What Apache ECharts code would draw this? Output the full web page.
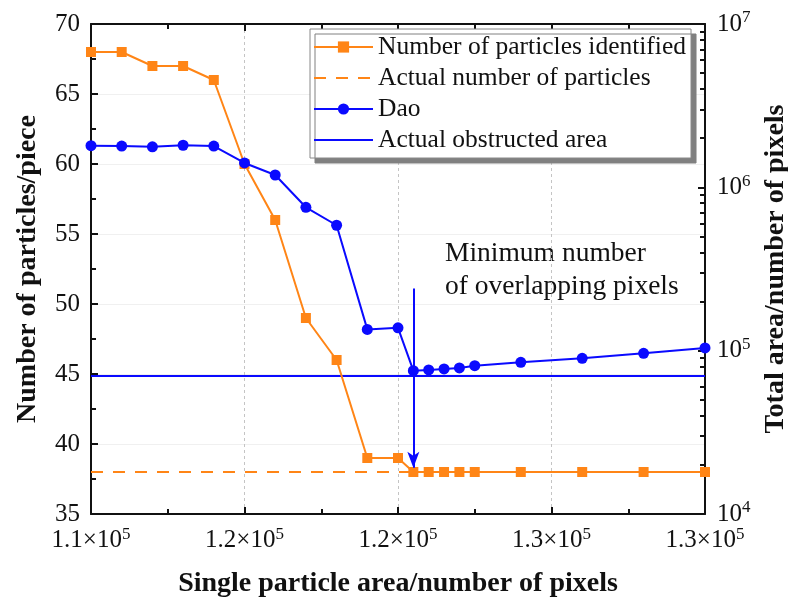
<!DOCTYPE html>
<html>
<head>
<meta charset="utf-8">
<script src="https://cdn.jsdelivr.net/npm/echarts@6/dist/echarts.min.js"></script>
<style>
  html, body { margin: 0; padding: 0; background: #fff; }
  #main { width: 788px; height: 604px; }
</style>
</head>
<body>
<div id="main"></div>
<script>
// values
var areaValues = [110000, 111000, 112000, 113000, 114000, 115000, 116000, 117000, 118000, 119000,
    120000, 120500, 121000, 121500, 122000, 122500, 124000, 126000, 128000, 130000];
var identifiedCount = [68, 68, 67, 67, 66, 60, 56, 49, 46, 39, 39, 38, 38, 38, 38, 38, 38, 38, 38, 38];
var daoArea = [1.80e6, 1.79e6, 1.77e6, 1.81e6, 1.79e6, 1.41e6, 1.19e6, 7.55e5, 5.86e5, 1.35e5,
    1.38e5, 7.54e4, 7.62e4, 7.73e4, 7.84e4, 8.09e4, 8.49e4, 8.98e4, 9.64e4, 1.04e5];
var actualCount = 38;
var actualArea = 7.0e4;
var xTickLabels = ['1.1', '1.2', '1.2', '1.3', '1.3'];
var arrowX = 120500;
var arrowFrom = 51.1, arrowTo = 38.3;

var ORANGE = '#ff8516';
var BLUE = '#0a0aff';
var FONT = '"Liberation Serif", "Times New Roman", serif';

function pairs(xs, ys) {
    return xs.map(function (x, i) { return [x, ys[i]]; });
}

var chart = echarts.init(document.getElementById('main'));

var axisLineStyle = { color: '#111', width: 2 };
var supRich = {
    b: { fontFamily: FONT, fontSize: 25, color: '#111' },
    s: { fontFamily: FONT, fontSize: 17, color: '#111', verticalAlign: 'top', padding: [0, 0, 12, 0] }
};

var option = {
    animation: false,
    backgroundColor: '#fff',
    grid: { left: 91, right: 83, top: 24, bottom: 90, containLabel: false, outerBoundsMode: 'none' },
    legend: {
        orient: 'vertical',
        left: 310, top: 29,
        padding: [5, 5, 5, 3],
        backgroundColor: '#fff',
        borderColor: '#888',
        borderWidth: 1,
        shadowColor: '#808080',
        shadowBlur: 0,
        shadowOffsetX: 5,
        shadowOffsetY: 5,
        itemWidth: 59,
        itemHeight: 14,
        itemGap: 5,
        textStyle: { fontFamily: FONT, fontSize: 25.5, color: '#111' },
        data: [
            'Number of particles identified',
            { name: 'Actual number of particles', itemStyle: { opacity: 0 } },
            'Dao',
            { name: 'Actual obstructed area', itemStyle: { opacity: 0 } }
        ]
    },
    xAxis: [
        {
            type: 'value', position: 'bottom',
            min: 110000, max: 130000, interval: 5000,
            name: 'Single particle area/number of pixels',
            nameLocation: 'middle', nameGap: 56,
            nameTextStyle: { fontFamily: FONT, fontSize: 28, fontWeight: 'bold', color: '#111' },
            axisLine: { lineStyle: axisLineStyle },
            axisTick: { inside: true, length: 7, lineStyle: axisLineStyle },
            minorTick: { show: true, splitNumber: 2, length: 5, lineStyle: { color: '#111', width: 2 } },
            splitLine: { show: true, lineStyle: { color: '#c4c4c4', width: 1, type: [3, 3] } },
            axisLabel: {
                margin: 12,
                formatter: function (v, i) { return '{b|' + xTickLabels[i] + '×10}{s|5}'; },
                rich: supRich
            }
        },
        {
            type: 'value', position: 'top',
            min: 110000, max: 130000, interval: 5000,
            axisLine: { lineStyle: axisLineStyle },
            axisTick: { inside: true, length: 7, lineStyle: axisLineStyle },
            minorTick: { show: true, splitNumber: 2, length: 5, lineStyle: { color: '#111', width: 2 } },
            splitLine: { show: false },
            axisLabel: { show: false }
        }
    ],
    yAxis: [
        {
            type: 'value', position: 'left',
            min: 35, max: 70, interval: 5,
            name: 'Number of particles/piece',
            nameLocation: 'middle', nameGap: 49,
            nameTextStyle: { fontFamily: FONT, fontSize: 28, fontWeight: 'bold', color: '#111' },
            axisLine: { show: true, lineStyle: axisLineStyle },
            axisTick: { show: true, inside: true, length: 7, lineStyle: axisLineStyle },
            minorTick: { show: true, splitNumber: 2, length: 5, lineStyle: { color: '#111', width: 2 } },
            splitLine: { show: true, lineStyle: { color: '#f0f0f0', width: 1 } },
            axisLabel: { margin: 11, fontFamily: FONT, fontSize: 25, color: '#111' }
        },
        {
            type: 'log', logBase: 10, position: 'right',
            min: 1e4, max: 1e7,
            name: 'Total area/number of pixels',
            nameLocation: 'middle', nameGap: 54,
            nameTextStyle: { fontFamily: FONT, fontSize: 28, fontWeight: 'bold', color: '#111' },
            axisLine: { show: true, lineStyle: axisLineStyle },
            axisTick: { show: true, inside: true, length: 7, lineStyle: axisLineStyle },
            minorTick: { show: true, splitNumber: 9, length: 5, lineStyle: { color: '#111', width: 2 } },
            splitLine: { show: false },
            axisLabel: {
                margin: 12,
                formatter: function (v) { return '{b|10}{s|' + Math.round(Math.log10(v)) + '}'; },
                rich: supRich
            }
        }
    ],
    graphic: [
        {
            type: 'text', left: 445, top: 237,
            style: {
                text: 'Minimum number\nof overlapping pixels',
                fontFamily: FONT, fontSize: 27.5, lineHeight: 33, fill: '#111'
            }
        }
    ],
    series: [
        {
            name: 'Actual number of particles',
            type: 'line', xAxisIndex: 0, yAxisIndex: 0,
            data: [[110000, actualCount], [130000, actualCount]],
            symbol: 'none',
            lineStyle: { color: ORANGE, width: 2, type: [12, 10] },
            itemStyle: { color: ORANGE },
            z: 2
        },
        {
            name: 'Actual obstructed area',
            type: 'line', xAxisIndex: 0, yAxisIndex: 1,
            data: [[110000, actualArea], [130000, actualArea]],
            symbol: 'none',
            lineStyle: { color: BLUE, width: 2 },
            itemStyle: { color: BLUE },
            z: 2
        },
        {
            name: 'Number of particles identified',
            type: 'line', xAxisIndex: 0, yAxisIndex: 0,
            data: pairs(areaValues, identifiedCount),
            symbol: 'rect', symbolSize: 10,
            clip: false,
            lineStyle: { color: ORANGE, width: 2 },
            itemStyle: { color: ORANGE },
            z: 3,
            markLine: {
                silent: true,
                symbol: ['none', 'arrow'],
                symbolSize: [9, 16],
                label: { show: false },
                lineStyle: { color: BLUE, width: 2, type: 'solid' },
                data: [[{ coord: [arrowX, arrowFrom] }, { coord: [arrowX, arrowTo] }]]
            }
        },
        {
            name: 'Dao',
            type: 'line', xAxisIndex: 0, yAxisIndex: 1,
            data: pairs(areaValues, daoArea),
            symbol: 'circle', symbolSize: 11,
            clip: false,
            lineStyle: { color: BLUE, width: 2 },
            itemStyle: { color: BLUE },
            z: 4
        }
    ]
};

chart.setOption(option);
</script>
</body>
</html>
